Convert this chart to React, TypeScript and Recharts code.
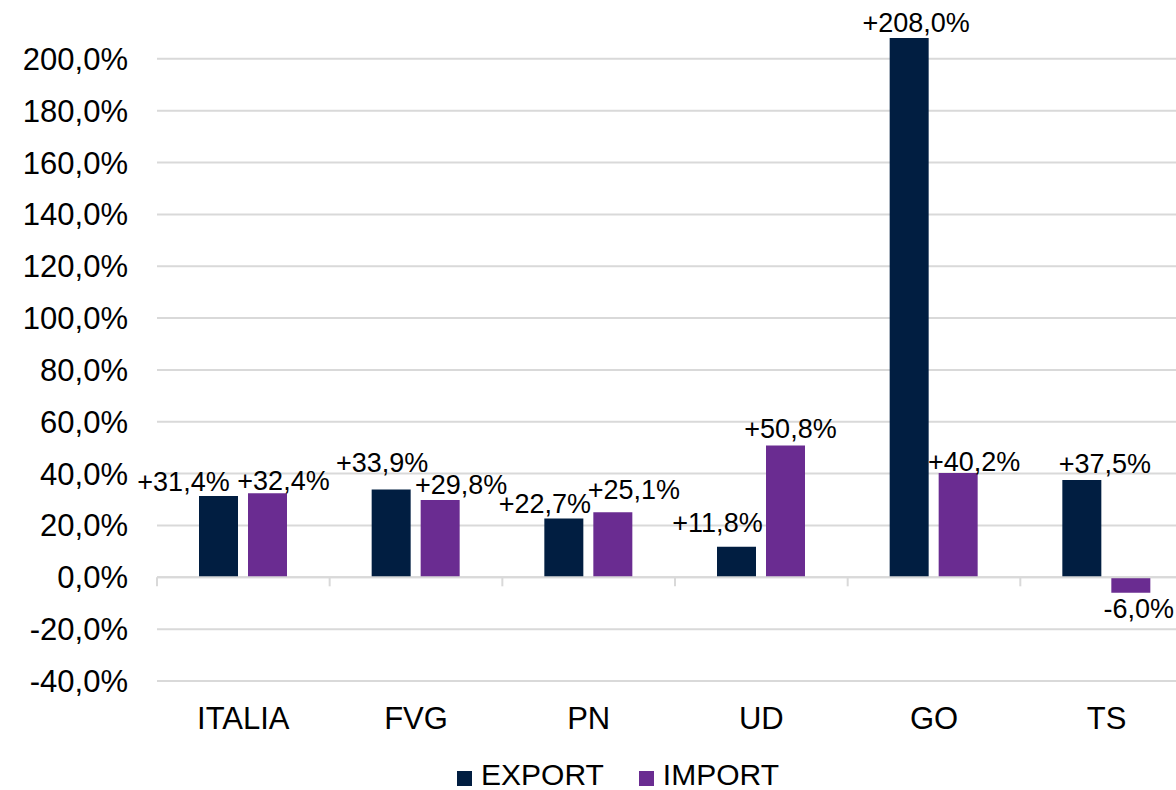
import React from 'react';
import { BarChart, Bar, XAxis, YAxis, CartesianGrid, Legend, ReferenceLine, LabelList } from 'recharts';

const categories = ['ITALIA', 'FVG', 'PN', 'UD', 'GO', 'TS'];
const exportValues = [31.4, 33.9, 22.7, 11.8, 208.0, 37.5];
const importValues = [32.4, 29.8, 25.1, 50.8, 40.2, -6.0];
const yTicks = [-40, -20, 0, 20, 40, 60, 80, 100, 120, 140, 160, 180, 200];
const yDomain = [-40, 220];
const seriesNames = ['EXPORT', 'IMPORT'];

// label nudges (dx, dy) relative to the default centred placement, as in the original
const exportLabelNudge = [[-35, 0], [-9, -12], [-19, 0], [-19, -9], [7, -1], [23, -2]];
const importLabelNudge = [[16, 2], [21, -1], [21, -8], [5, -2], [16, 3], [8, 0]];

const FONT = "'Liberation Sans', Arial, sans-serif";
const EXPORT_COLOR = '#011E41';
const IMPORT_COLOR = '#6A2C91';
const GRID = '#d9d9d9';

const data = categories.map((c, i) => ({ name: c, exp: exportValues[i], imp: importValues[i] }));

const fmtPct = (v: number) => v.toFixed(1).replace('.', ',') + '%';
const fmtLabel = (v: number) => (v > 0 ? '+' : '') + fmtPct(v);

const makeLabel = (nudges: number[][]) => (props: any) => {
  const x = Number(props.x), y = Number(props.y), width = Number(props.width), height = Number(props.height);
  const { value, index } = props;
  const top = Math.min(y, y + height);
  const bottom = Math.max(y, y + height);
  const [dx, dy] = nudges[index] || [0, 0];
  const cx = x + width / 2 + dx;
  const cy = (value >= 0 ? top - 15 : bottom + 15) + dy;
  return (
    <text x={cx} y={cy + 9.7} textAnchor="middle" fontSize={27} fontFamily={FONT} fill="#000">
      {fmtLabel(value)}
    </text>
  );
};

const ZeroLine = (props: any) => {
  const ax = Number(props.x1), bx = Number(props.x2);
  const yy = Number(props.y1);
  const left = Math.min(ax, bx);
  const right = Math.max(ax, bx);
  const n = categories.length;
  const step = (right - left) / n;
  const marks = [];
  for (let i = 0; i <= n; i++) {
    const xx = left + i * step;
    marks.push(<line key={i} x1={xx} y1={yy} x2={xx} y2={yy + 9} stroke={GRID} strokeWidth={2} />);
  }
  return (
    <g>
      <line x1={left} y1={yy} x2={right} y2={yy} stroke={GRID} strokeWidth={2} />
      {marks}
    </g>
  );
};

const gridRows = (props: any) => {
  const s = props && props.yAxis ? props.yAxis.scale : null;
  if (typeof s === 'function') return yTicks.map((t) => s(t));
  if (s && typeof s.map === 'function') return yTicks.map((t) => s.map(t));
  const off = props && props.offset;
  if (off) {
    return yTicks.map((t) => off.top + ((yDomain[1] - t) / (yDomain[1] - yDomain[0])) * off.height);
  }
  return [];
};

const renderLegend = (props: any) => {
  const payload = props.payload || [];
  return (
    <div
      style={{
        display: 'flex',
        justifyContent: 'center',
        alignItems: 'center',
        height: 40,
        paddingTop: 10,
        boxSizing: 'border-box',
        fontFamily: FONT,
        fontSize: 30,
        color: '#000',
      }}
    >
      {payload.map((p: any, i: number) => (
        <div key={i} style={{ display: 'flex', alignItems: 'center', marginLeft: i === 0 ? 0 : 35 }}>
          <div style={{ width: 15, height: 15, background: p.color, marginRight: 9, position: 'relative', top: 3 }} />
          <span style={{ lineHeight: '30px' }}>{p.value}</span>
        </div>
      ))}
    </div>
  );
};

export default function App() {
  return (
    <div style={{ position: 'absolute', left: 0, top: 0, width: 1176, height: 790, overflow: 'hidden', background: '#fff' }}>
      <BarChart
        width={1236}
        height={790}
        data={data}
        margin={{ top: 7, right: 43, bottom: 0, left: 0 }}
        barSize={39}
        barGap={10}
      >
        <CartesianGrid
          vertical={false}
          stroke={GRID}
          strokeWidth={2}
          horizontalCoordinatesGenerator={gridRows}
        />
        <XAxis
          dataKey="name"
          interval={0}
          height={69}
          axisLine={false}
          tickLine={false}
          tickSize={0}
          tickMargin={26}
          tick={{ fontSize: 31, fill: '#000', fontFamily: FONT }}
        />
        <YAxis
          type="number"
          domain={yDomain}
          ticks={yTicks}
          width={157}
          axisLine={false}
          tickLine={false}
          tickSize={0}
          tickMargin={29}
          tickFormatter={fmtPct}
          tick={{ fontSize: 31, fill: '#000', fontFamily: FONT }}
        />
        <ReferenceLine y={0} shape={ZeroLine} />
        <Legend
          verticalAlign="bottom"
          content={renderLegend}
          wrapperStyle={{ left: 0, width: 1236, bottom: 0 }}
        />
        <Bar dataKey="exp" name={seriesNames[0]} fill={EXPORT_COLOR} isAnimationActive={false}>
          <LabelList dataKey="exp" content={makeLabel(exportLabelNudge)} />
        </Bar>
        <Bar dataKey="imp" name={seriesNames[1]} fill={IMPORT_COLOR} isAnimationActive={false}>
          <LabelList dataKey="imp" content={makeLabel(importLabelNudge)} />
        </Bar>
      </BarChart>
    </div>
  );
}
